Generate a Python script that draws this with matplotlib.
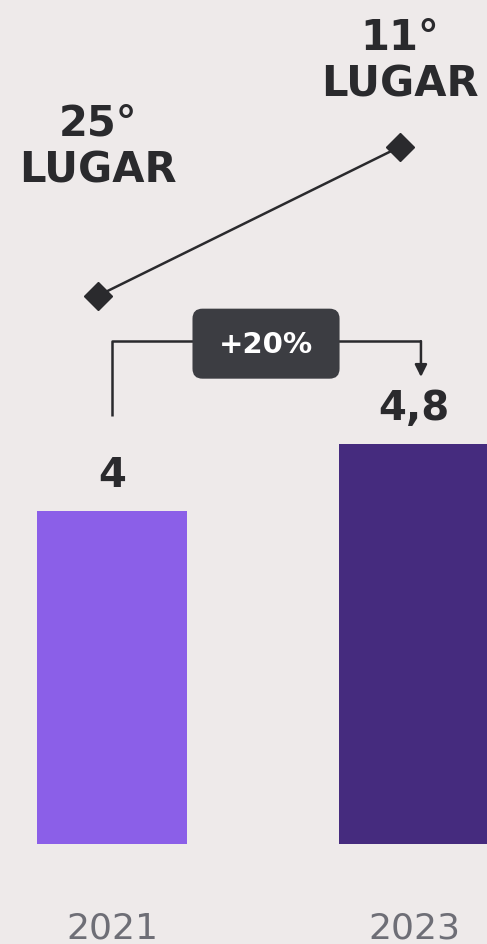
import numpy as np
import matplotlib
matplotlib.use("Agg")
import matplotlib.pyplot as plt
from matplotlib.patches import FancyBboxPatch

# ---- data ----
years = ["2021", "2023"]
values = [4.0, 4.8]
value_labels = ["4", "4,8"]
ranks = [25, 11]
rank_labels = ["25°\nLUGAR", "11°\nLUGAR"]
change_label = "+20%"

# ---- style ----
bg = "#EEEAEA"
bar_colors = ["#8B5FE8", "#452B7E"]
dark = "#2A2A2D"
year_color = "#6E6E76"
box_color = "#3C3D42"

plt.rcParams["font.family"] = ["DejaVu Sans"]

fig = plt.figure(figsize=(4.87, 9.45), dpi=100)
fig.patch.set_facecolor(bg)
ax = fig.add_axes([0, 0, 1, 1])
ax.set_facecolor(bg)

x = np.arange(len(years))
ax.bar(x, values, width=0.497, color=bar_colors, zorder=2)
ax.set_xlim(-112 / 302, 375 / 302)
ax.set_ylim(-100 / 83.25, 845 / 83.25)
ax.axis("off")

# value labels above bars
for xi, v, lbl in zip(x, values, value_labels):
    ax.annotate(lbl, (xi, v), xytext=(0, 26), textcoords="offset points",
                ha="center", va="center", fontsize=29, fontweight="bold",
                color=dark)

# year labels below bars
for xi, yr in zip(x, years):
    ax.annotate(yr, (xi, 0), xytext=(0, -60), textcoords="offset points",
                ha="center", va="center", fontsize=26, color=year_color)

# bracket with change label
y_br = values[0] + 2.04
ax.plot([x[0], x[0], x[1] + 0.023], [values[0] + 1.14, y_br, y_br],
        color=dark, lw=1.8, solid_capstyle="butt", zorder=3)
ax.annotate("", xy=(x[1] + 0.023, values[1] + 0.81), xytext=(x[1] + 0.023, y_br),
            arrowprops=dict(arrowstyle="-|>", lw=1.8, color=dark,
                            mutation_scale=18, shrinkA=0, shrinkB=0), zorder=3)
bx, by, bw, bh = 0.51, y_br - 0.03, 0.487, 0.841
ax.add_patch(FancyBboxPatch((bx - bw / 2, by - bh / 2), bw, bh,
                            boxstyle="round,pad=0,rounding_size=0.033",
                            mutation_aspect=3.63, fc=box_color, ec="none",
                            zorder=4))
ax.text(bx, by, change_label, ha="center", va="center", fontsize=21,
        fontweight="bold", color="white", zorder=5)

# ranking line on its own axis
ax2 = ax.twinx()
ax2.set_ylim(11 + 797 / 10.64, 11 - 148 / 10.64)
ax2.axis("off")
xr = x - 0.048
ax2.plot(xr, ranks, color=dark, lw=1.8, marker="D", markersize=14,
         zorder=3)
offsets = [108, 62.5]
for xi, r, lbl, off in zip(xr, ranks, rank_labels, offsets):
    ax2.annotate(lbl, (xi, r), xytext=(0, off), textcoords="offset points",
                 ha="center", va="center", fontsize=30, fontweight="bold",
                 color=dark, linespacing=1.15)

fig.savefig("out.png", dpi=100, facecolor=bg)
